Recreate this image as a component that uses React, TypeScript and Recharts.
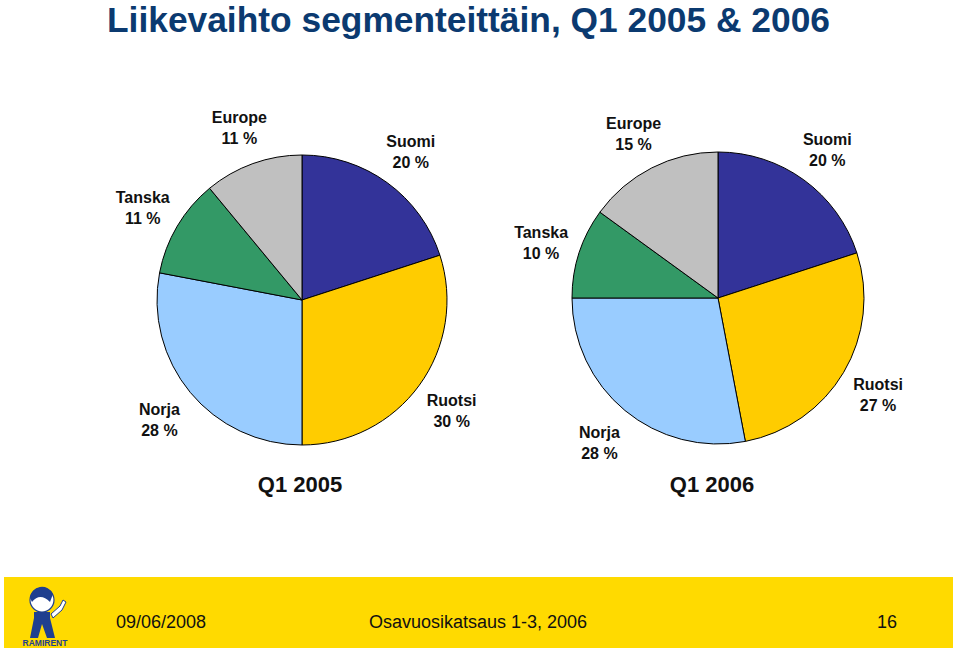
import { PieChart, Pie, Cell } from 'recharts';

const segments = ['Suomi', 'Ruotsi', 'Norja', 'Tanska', 'Europe'];
const share2005 = [20, 30, 28, 11, 11];
const share2006 = [20, 27, 28, 10, 15];
const periods = ['Q1 2005', 'Q1 2006'];
const sliceColors = ['#333399', '#FFCC00', '#99CCFF', '#339966', '#C0C0C0'];

const data2005 = segments.map((name, i) => ({ name, value: share2005[i] }));
const data2006 = segments.map((name, i) => ({ name, value: share2006[i] }));

const RAD = Math.PI / 180;
const FONT = '"Liberation Sans", Arial, Helvetica, sans-serif';

const renderLabel = (props: any) => {
  const { cx, cy, midAngle, outerRadius, name, value } = props;
  const r = outerRadius + 40;
  const x = cx + r * Math.cos(-midAngle * RAD);
  const y = cy + r * Math.sin(-midAngle * RAD);
  return (
    <text
      x={x}
      y={y}
      textAnchor="middle"
      fontFamily={FONT}
      fontWeight="bold"
      fontSize={16}
      fill="#111"
    >
      <tspan x={x} y={y - 3}>{name}</tspan>
      <tspan x={x} y={y + 18}>{`${value} %`}</tspan>
    </text>
  );
};

function Logo() {
  return (
    <svg width={60} height={70} viewBox="0 0 60 70" style={{ position: 'absolute', left: 20, top: 578 }}>
      <path d="M14 40 L10 60 L18 60 L22 46 L27 60 L35 60 L30 40 Z" fill="#1f3f8f" />
      <rect x={14} y={34} width={16} height={10} fill="#1f3f8f" />
      <circle cx={22} cy={22} r={12} fill="#fff" stroke="#1f3f8f" strokeWidth={1.2} />
      <path d="M10 20 A12 12 0 0 1 33 16 L30 24 Q20 14 12 24 Z" fill="#1f3f8f" />
      <path d="M31 36 L40 28 L43 22 L46 24 L42 32 L33 40 Z" fill="#fff" stroke="#1f3f8f" strokeWidth={1} />
      <text x={25} y={68} textAnchor="middle" fontFamily={FONT} fontWeight="bold" fontSize={8.5} fill="#1f3f8f">
        RAMIRENT
      </text>
    </svg>
  );
}

export default function App() {
  return (
    <div style={{ position: 'absolute', left: 0, top: 0, width: 959, height: 650, background: '#fff', overflow: 'hidden', fontFamily: FONT }}>
      <svg width={959} height={46} style={{ position: 'absolute', left: 0, top: 0 }}>
        <text
          x={107}
          y={32}
          textLength={723}
          lengthAdjust="spacingAndGlyphs"
          fontFamily={FONT}
          fontWeight="bold"
          fontSize={35}
          fill="#0B3A70"
        >
          Liikevaihto segmenteittäin, Q1 2005 &amp; 2006
        </text>
      </svg>

      <div style={{ position: 'absolute', left: 0, top: 0 }}>
        <PieChart width={959} height={560} margin={{ top: 0, right: 0, bottom: 0, left: 0 }}>
          <Pie
            data={data2005}
            dataKey="value"
            nameKey="name"
            cx={302}
            cy={300}
            outerRadius={145}
            startAngle={90}
            endAngle={-270}
            stroke="#000"
            strokeWidth={1}
            label={renderLabel}
            labelLine={false}
            isAnimationActive={false}
          >
            {data2005.map((d, i) => (
              <Cell key={d.name} fill={sliceColors[i]} />
            ))}
          </Pie>
          <Pie
            data={data2006}
            dataKey="value"
            nameKey="name"
            cx={718}
            cy={298}
            outerRadius={146}
            startAngle={90}
            endAngle={-270}
            stroke="#000"
            strokeWidth={1}
            label={renderLabel}
            labelLine={false}
            isAnimationActive={false}
          >
            {data2006.map((d, i) => (
              <Cell key={d.name} fill={sliceColors[i]} />
            ))}
          </Pie>
        </PieChart>
      </div>

      {periods.map((p, i) => (
        <div
          key={p}
          style={{
            position: 'absolute',
            left: i === 0 ? 200 : 612,
            width: 200,
            top: 472,
            textAlign: 'center',
            fontWeight: 'bold',
            fontSize: 22,
            color: '#111',
          }}
        >
          {p}
        </div>
      ))}

      <div style={{ position: 'absolute', left: 4, top: 577, width: 949, height: 71, background: '#FFDA00' }} />
      <Logo />
      <div style={{ position: 'absolute', left: 116, top: 612, fontSize: 18, color: '#111' }}>09/06/2008</div>
      <div style={{ position: 'absolute', left: 369, top: 612, fontSize: 18, color: '#111' }}>Osavuosikatsaus 1-3, 2006</div>
      <div style={{ position: 'absolute', left: 877, top: 612, fontSize: 18, color: '#111' }}>16</div>
    </div>
  );
}
